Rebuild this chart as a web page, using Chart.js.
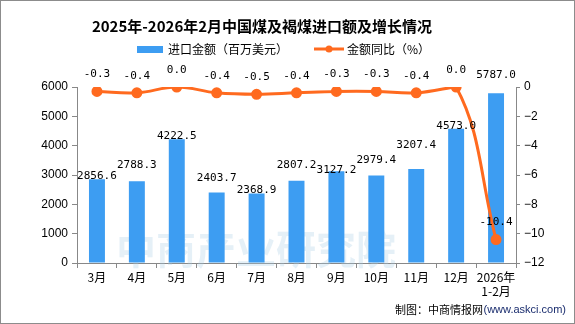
<!DOCTYPE html>
<html>
<head>
<meta charset="utf-8">
<script src="https://cdn.jsdelivr.net/npm/chart.js@4"></script>
<style>
  html, body { margin: 0; padding: 0; background: #fff; }
  .wrap { position: relative; width: 575px; height: 324px; box-sizing: border-box; border: 1px solid #8c8c8c; }
  canvas { position: absolute; left: 0; top: 0; }
</style>
</head>
<body>
<div class="wrap">
  <canvas id="chart" width="573" height="322"></canvas>
</div>
<script>
const months = ['3月', '4月', '5月', '6月', '7月', '8月', '9月', '10月', '11月', '12月', ['2026年', '1-2月']];
const importValue = [2856.6, 2788.3, 4222.5, 2403.7, 2368.9, 2807.2, 3127.2, 2979.4, 3207.4, 4573.0, 5787.0];
const yoyChange = [-0.3, -0.4, 0.0, -0.4, -0.5, -0.4, -0.3, -0.3, -0.4, 0.0, -10.4];
const leftTicks = [0, 1000, 2000, 3000, 4000, 5000, 6000];
const rightTicks = [-12, -10, -8, -6, -4, -2, 0];

// label nudges (px) for bar labels, the source moves some of them up to avoid overlap
const barLabelLift = [2, 15, 2, 13, 2, 15, 0, 14, 23, 2, 17];

const barColor = '#3d9df2';
const lineColor = '#ff6a1f';

const decor = {
  id: 'decor',
  afterDatasetsDraw(chart) {
    const ctx = chart.ctx;
    ctx.save();
    ctx.textAlign = 'center';
    ctx.textBaseline = 'middle';

    // bar values
    ctx.font = '11px "DejaVu Sans Mono"';
    ctx.fillStyle = '#000';
    chart.getDatasetMeta(1).data.forEach((bar, i) => {
      ctx.fillText(importValue[i].toFixed(1), bar.x, bar.y - 1 - barLabelLift[i]);
    });

    // line values
    chart.getDatasetMeta(0).data.forEach((pt, i) => {
      ctx.fillText(yoyChange[i].toFixed(1), pt.x, pt.y - 17);
    });

    // title
    ctx.font = 'bold 15px "Noto Sans CJK SC"';
    ctx.fillText('2025年-2026年2月中国煤及褐煤进口额及增长情况', 261, 25);

    // legend
    ctx.font = '12px "Noto Sans CJK SC"';
    ctx.textAlign = 'left';
    ctx.fillStyle = barColor;
    ctx.fillRect(136, 45, 26, 7);
    ctx.fillStyle = '#000';
    ctx.fillText('进口金额（百万美元）', 167, 48);
    ctx.strokeStyle = lineColor;
    ctx.lineWidth = 3;
    ctx.beginPath();
    ctx.moveTo(313, 48);
    ctx.lineTo(343, 48);
    ctx.stroke();
    ctx.fillStyle = lineColor;
    ctx.beginPath();
    ctx.arc(328, 48, 3.5, 0, Math.PI * 2);
    ctx.fill();
    ctx.fillStyle = '#000';
    ctx.fillText('金额同比（%）', 346, 48);

    // source
    ctx.textAlign = 'right';
    ctx.font = '11px "Noto Sans CJK SC"';
    ctx.fillText('制图：中商情报网', 482, 309);
    ctx.font = '11px "Liberation Sans"';
    ctx.fillStyle = '#1a2d6e';
    ctx.fillText('(www.askci.com)', 565, 309);
    ctx.restore();
  },
  beforeDatasetsDraw(chart) {
    // faint watermark text
    const ctx = chart.ctx;
    ctx.save();
    ctx.font = 'bold 40px "Noto Sans CJK SC"';
    ctx.fillStyle = 'rgba(170, 205, 228, 0.3)';
    ctx.textAlign = 'left';
    ctx.textBaseline = 'middle';
    ctx.fillText('中商产业研究院', 115, 248);
    ctx.restore();
  }
};

new Chart(document.getElementById('chart'), {
  data: {
    labels: months,
    datasets: [
      {
        type: 'line',
        label: '金额同比（%）',
        data: yoyChange,
        yAxisID: 'y1',
        borderColor: lineColor,
        backgroundColor: lineColor,
        borderWidth: 3,
        pointRadius: 4,
        pointHoverRadius: 4,
        tension: 0.4,
        order: 0
      },
      {
        type: 'bar',
        label: '进口金额（百万美元）',
        data: importValue,
        yAxisID: 'y',
        backgroundColor: barColor,
        barPercentage: 0.4,
        categoryPercentage: 1,
        order: 1
      }
    ]
  },
  options: {
    responsive: false,
    animation: false,
    layout: { padding: { top: 86, left: 0, right: 0, bottom: 0 } },
    plugins: {
      legend: { display: false },
      title: { display: false },
      tooltip: { enabled: false }
    },
    scales: {
      x: {
        offset: true,
        grid: { display: true, drawOnChartArea: false, drawTicks: true, tickLength: 5, offset: true, color: '#888' },
        border: { color: '#888' },
        ticks: { color: '#000', font: { size: 12, family: '"Noto Sans CJK SC"' }, maxRotation: 0, autoSkip: false, padding: 2 },
        afterFit(scale) { scale.height = 60; }
      },
      y: {
        position: 'left',
        min: 0,
        max: 6000,
        afterBuildTicks(scale) { scale.ticks = leftTicks.map(v => ({ value: v })); },
        grid: { drawOnChartArea: false, tickLength: 5, color: '#888' },
        border: { color: '#888' },
        ticks: { color: '#000', font: { size: 12, family: '"Liberation Sans"' }, padding: 4,
          callback: v => String(v) },
        afterFit(scale) { scale.width = 76; }
      },
      y1: {
        position: 'right',
        min: -12,
        max: 0,
        afterBuildTicks(scale) { scale.ticks = rightTicks.map(v => ({ value: v })); },
        grid: { drawOnChartArea: false, tickLength: 4, color: '#888' },
        border: { color: '#888' },
        ticks: { color: '#000', font: { size: 12, family: '"Liberation Sans"' }, padding: 4,
          callback: v => String(v).replace('-', '−') },
        afterFit(scale) { scale.width = 58; }
      }
    }
  },
  plugins: [decor]
});
</script>
</body>
</html>
